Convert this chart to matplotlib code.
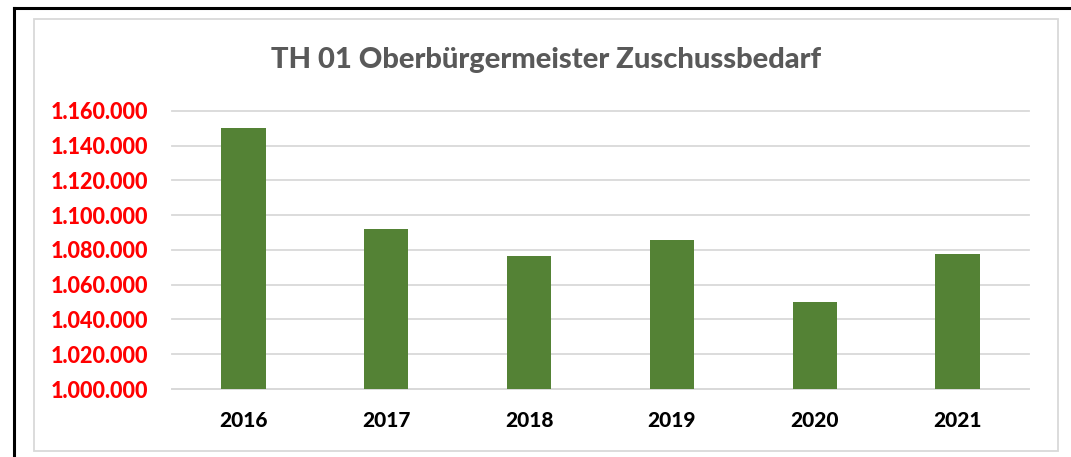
import matplotlib
matplotlib.use("Agg")
import matplotlib.pyplot as plt
from matplotlib.ticker import FuncFormatter, MultipleLocator
from matplotlib.patches import Rectangle
from matplotlib.lines import Line2D

years = ["2016", "2017", "2018", "2019", "2020", "2021"]
values = [1150200, 1092200, 1076300, 1086000, 1049900, 1077700]
title = "TH 01 Oberbürgermeister Zuschussbedarf"

W, H = 1071, 457
fig = plt.figure(figsize=(W / 100, H / 100), dpi=100)
fig.patch.set_facecolor("white")

def fx(px):
    return px / W

def fy(py):
    return 1 - py / H

FONT = "Lato"
WEIGHT = 900

# outer black frame (left and top)
fig.add_artist(Line2D([fx(14), fx(14)], [fy(8), 0], color="black", lw=2.2, transform=fig.transFigure))
fig.add_artist(Line2D([fx(14), 1], [fy(8), fy(8)], color="black", lw=2.2, transform=fig.transFigure))
# chart area border
fig.add_artist(Rectangle((fx(34), fy(451)), fx(1058) - fx(34), fy(19) - fy(451),
                         fill=False, edgecolor="#d9d9d9", lw=1.3, transform=fig.transFigure))

ax = fig.add_axes([fx(172), fy(389), fx(1029) - fx(172), fy(111) - fy(389)])
x = list(range(len(years)))
ax.bar(x, values, width=0.31, color="#548235", zorder=3)
ax.set_xlim(-0.5, len(years) - 0.5)
ax.set_ylim(1000000, 1160000)
ax.yaxis.set_major_locator(MultipleLocator(20000))
ax.yaxis.set_major_formatter(FuncFormatter(lambda v, p: f"{v:,.0f}".replace(",", ".")))
ax.grid(axis="y", color="#d9d9d9", lw=1.3, zorder=0)
for gl in ax.get_ygridlines():
    gl.set_clip_on(False)
for s in ["top", "right", "left"]:
    ax.spines[s].set_visible(False)
ax.spines["bottom"].set_color("#d9d9d9")
ax.spines["bottom"].set_linewidth(1.3)
ax.set_xticks(x)
ax.set_xticklabels(years)
ax.tick_params(axis="both", length=0)
ax.tick_params(axis="y", pad=17, labelcolor="#ff0000", labelsize=15.5)
ax.tick_params(axis="x", pad=16, labelcolor="black", labelsize=15)
for lab in ax.get_yticklabels() + ax.get_xticklabels():
    lab.set_fontfamily(FONT)
    lab.set_fontweight(WEIGHT)

fig.text(fx(546), fy(60), title, ha="center", va="center", fontsize=21,
         fontweight=WEIGHT, color="#595959", family=FONT)

fig.savefig("out.png", dpi=100, facecolor="white")
